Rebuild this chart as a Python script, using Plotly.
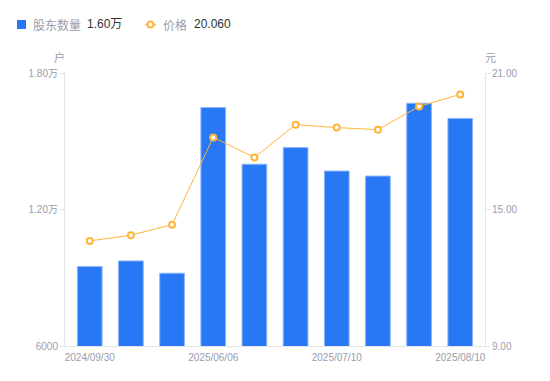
import plotly.graph_objects as go

categories = ["2024/09/30", "2024/12/31", "2025/03/31", "2025/06/06", "2025/06/20",
              "2025/06/30", "2025/07/10", "2025/07/20", "2025/07/31", "2025/08/10"]
holders = [9490, 9740, 9200, 16480, 13990, 14720, 13690, 13470, 16670, 16000]
price = [13.62, 13.87, 14.33, 18.17, 17.29, 18.73, 18.60, 18.51, 19.53, 20.06]
shown_ticks = ["2024/09/30", "2025/06/06", "2025/07/10", "2025/08/10"]
left_tickvals = [6000, 12000, 18000]
left_ticktext = ["6000", "1.20万", "1.80万"]
right_tickvals = [9, 15, 21]
right_ticktext = ["9.00", "15.00", "21.00"]

FONT = "Liberation Sans, Arial, Noto Sans CJK SC, sans-serif"
BLUE = "#2878F5"
ORANGE = "#FFB43A"
GRAY = "#9A9CAE"

fig = go.Figure()
fig.add_trace(go.Bar(x=categories, y=holders, width=0.6, name="股东数量",
                     marker=dict(color=BLUE, line=dict(color="#8DB6FA", width=1)),
                     yaxis="y", showlegend=False))
fig.add_trace(go.Scatter(x=categories, y=price, mode="lines+markers", name="价格",
                         line=dict(color=ORANGE, width=1),
                         marker=dict(symbol="circle", size=6, color="white",
                                     line=dict(color=ORANGE, width=2)),
                         yaxis="y2", showlegend=False))

fig.update_layout(
    width=550, height=381,
    margin=dict(l=65, r=65, t=73, b=35),
    paper_bgcolor="white", plot_bgcolor="white",
    font=dict(family=FONT, size=10, color=GRAY),
    bargap=0.4,
    xaxis=dict(type="category", tickmode="array", tickvals=shown_ticks, ticktext=shown_ticks,
               showline=True, linecolor="#E3E4E8", linewidth=1, ticks="", showgrid=False,
               tickfont=dict(size=10, color=GRAY), ticklabelstandoff=2),
    yaxis=dict(range=[6000, 18000], tickmode="array", tickvals=left_tickvals,
               ticktext=left_ticktext, showline=True, linecolor="#E3E4E8", linewidth=1,
               ticks="outside", ticklen=4, tickcolor="#E3E4E8", showgrid=False,
               zeroline=False, tickfont=dict(size=10, color=GRAY)),
    yaxis2=dict(range=[9, 21], overlaying="y", side="right", tickmode="array",
                tickvals=right_tickvals, ticktext=right_ticktext, showline=True,
                linecolor="#E3E4E8", linewidth=1, ticks="outside", ticklen=4,
                tickcolor="#E3E4E8", showgrid=False, zeroline=False,
                tickfont=dict(size=10, color=GRAY)),
)

def px(x):
    return (x - 65) / 420

def py(y):
    return (346 - y) / 273

# Legend (custom)
fig.add_shape(type="rect", xref="paper", yref="paper",
              x0=px(17), x1=px(26), y0=py(29), y1=py(20),
              fillcolor=BLUE, line=dict(width=0))
fig.add_shape(type="line", xref="paper", yref="paper",
              x0=px(145), x1=px(156), y0=py(24.5), y1=py(24.5),
              line=dict(color=ORANGE, width=1.5))
fig.add_shape(type="circle", xref="paper", yref="paper",
              x0=px(147.5), x1=px(153.5), y0=py(27.5), y1=py(21.5),
              fillcolor="white", line=dict(color=ORANGE, width=2))
fig.add_annotation(xref="paper", yref="paper", x=px(31), y=py(24.5),
                   xanchor="left", yanchor="middle", showarrow=False,
                   text="股东数量", font=dict(size=12, color=GRAY, family="Noto Sans CJK SC"))
fig.add_annotation(xref="paper", yref="paper", x=px(85), y=py(24.5),
                   xanchor="left", yanchor="middle", showarrow=False,
                   text=f"{holders[-1] / 10000:.2f}万", font=dict(size=12, color="#333333"))
fig.add_annotation(xref="paper", yref="paper", x=px(161), y=py(24.5),
                   xanchor="left", yanchor="middle", showarrow=False,
                   text="价格", font=dict(size=12, color=GRAY, family="Noto Sans CJK SC"))
fig.add_annotation(xref="paper", yref="paper", x=px(192), y=py(24.5),
                   xanchor="left", yanchor="middle", showarrow=False,
                   text=f"{price[-1]:.3f}", font=dict(size=12, color="#333333"))

# axis unit titles
fig.add_annotation(xref="paper", yref="paper", x=px(59), y=py(57),
                   xanchor="center", yanchor="middle", showarrow=False,
                   text="户", font=dict(size=11, color=GRAY, family="Noto Sans CJK SC"))
fig.add_annotation(xref="paper", yref="paper", x=px(490), y=py(57),
                   xanchor="center", yanchor="middle", showarrow=False,
                   text="元", font=dict(size=11, color=GRAY, family="Noto Sans CJK SC"))

fig.write_html("out.html", config={"displayModeBar": False},
               post_script="document.body.style.margin='0';")
